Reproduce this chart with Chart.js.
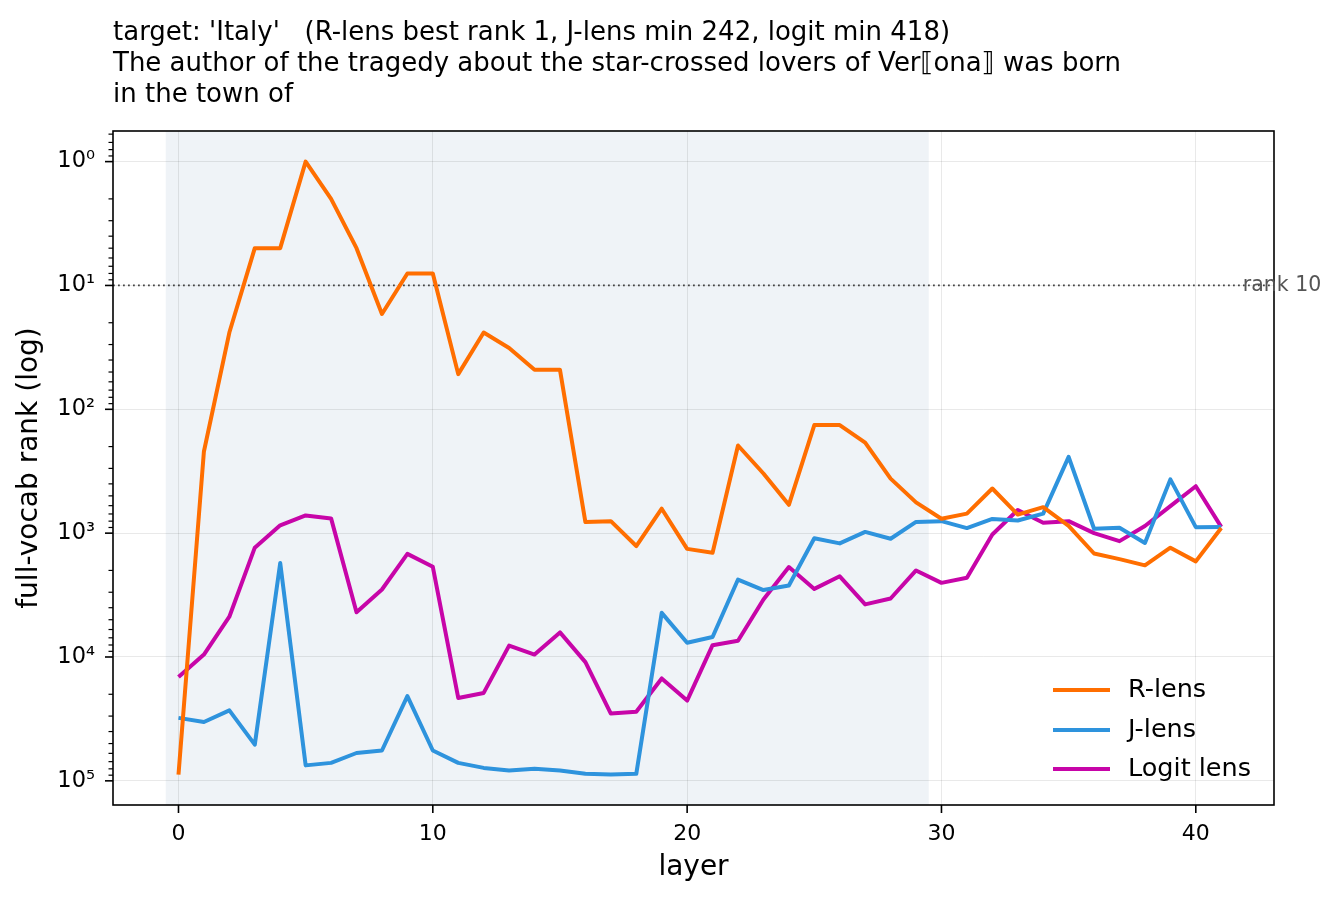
<!DOCTYPE html>
<html>
<head>
<meta charset="utf-8">
<title>full-vocab rank by layer</title>
<script src="https://cdn.jsdelivr.net/npm/chart.js@4.4.1/dist/chart.umd.min.js"></script>
<style>
    html, body { margin: 0; padding: 0; background: #fff; }
    #wrap { width: 1339px; height: 901px; }
</style>
</head>
<body>
<div id="wrap"><canvas id="rankChart" width="1339" height="901"></canvas></div>
<script>
Chart.defaults.font.family = "'DejaVu Sans', sans-serif";
Chart.defaults.color = '#000';

// values (rank, lower is better)
const layers = [0, 1, 2, 3, 4, 5, 6, 7, 8, 9, 10, 11, 12, 13, 14, 15, 16, 17, 18, 19, 20,
    21, 22, 23, 24, 25, 26, 27, 28, 29, 30, 31, 32, 33, 34, 35, 36, 37, 38, 39, 40, 41];
const rLensRank = [89000, 219, 24, 5, 5, 1, 2, 5, 17, 8, 8, 52, 24, 32, 48, 48, 814, 800, 1270, 635, 1340,
    1440, 196, 330, 590, 134, 134, 186, 363, 564, 765, 696, 436, 708, 617, 875, 1460, 1620, 1820, 1310, 1690, 910];
const jLensRank = [31000, 33500, 27000, 51000, 1740, 75000, 71600, 59600, 56900, 20700, 56900,
    71600, 78600, 82600, 80000, 82600, 87800, 88700, 87800, 4400, 7680, 6900, 2370, 2880, 2650,
    1100, 1210, 977, 1110, 811, 800, 910, 767, 790, 695, 242, 922, 906, 1200, 368, 895, 890];
const logitLensRank = [14500, 9550, 4730, 1310, 865, 720, 760, 4350, 2850, 1470, 1870, 21400,
    19500, 8100, 9550, 6330, 11000, 28600, 27700, 14900, 22500, 8030, 7400, 3430, 1880, 2820,
    2230, 3760, 3370, 2000, 2520, 2290, 1025, 650, 824, 800, 1000, 1160, 875, 605, 418, 890];

const seriesNames = ['R-lens', 'J-lens', 'Logit lens'];
const seriesColors = ['#ff6e00', '#2e93dd', '#c705a8'];
const xTickValues = [0, 10, 20, 30, 40];
const titleLines = [
    "target: 'Italy'   (R-lens best rank 1, J-lens min 242, logit min 418)",
    "The author of the tragedy about the star-crossed lovers of Ver\u27E6ona\u27E7 was born",
    "in the town of"
];
const refRank = 10;
const refLabel = 'rank 10';
const shadedLayers = [-0.5, 29.5];

const supDigits = {'0': '\u2070', '1': '\u00B9', '2': '\u00B2', '3': '\u00B3', '4': '\u2074',
    '5': '\u2075', '6': '\u2076', '7': '\u2077', '8': '\u2078', '9': '\u2079', '-': '\u207B'};

function powerLabel(v) {
    let e = String(Math.round(Math.log10(v)));
    return '10' + e.split('').map(c => supDigits[c]).join('');
}

function toPoints(values) {
    return values.map((v, i) => ({x: layers[i], y: v}));
}

function makeDataset(label, values, color) {
    return {
        label: label,
        data: toPoints(values),
        borderColor: color,
        backgroundColor: color,
        borderWidth: 4,
        pointRadius: 0,
        tension: 0,
        borderJoinStyle: 'round',
        fill: false
    }
}

// shading, reference line, frame, tick marks, legend and title
const decorPlugin = {
    id: 'decor',
    beforeDraw(chart) {
        const {ctx, chartArea: a, scales: {x}} = chart;
        let x0 = x.getPixelForValue(shadedLayers[0]);
        let x1 = x.getPixelForValue(shadedLayers[1]);
        ctx.save();
        ctx.fillStyle = 'rgba(74,111,165,0.085)';
        ctx.fillRect(x0, a.top, x1 - x0, a.bottom - a.top);
        ctx.restore();
    },
    beforeDatasetsDraw(chart) {
        const {ctx, chartArea: a, scales: {y}} = chart;
        let py = y.getPixelForValue(refRank);
        ctx.save();
        ctx.strokeStyle = 'rgba(50,50,50,0.9)';
        ctx.lineWidth = 1.8;
        ctx.setLineDash([1.8, 3.2]);
        ctx.beginPath();
        ctx.moveTo(a.left, py);
        ctx.lineTo(a.right, py);
        ctx.stroke();
        ctx.restore();
    },
    afterDraw(chart) {
        const {ctx, chartArea: a, scales: {x, y}} = chart;
        ctx.save();

        // tick marks
        ctx.strokeStyle = '#000';
        for (let t of x.ticks) {
            let px = x.getPixelForValue(t.value);
            ctx.lineWidth = 1.6;
            ctx.beginPath();
            ctx.moveTo(px, a.bottom);
            ctx.lineTo(px, a.bottom + 8);
            ctx.stroke();
        }
        for (let t of y.ticks) {
            let py = y.getPixelForValue(t.value);
            ctx.lineWidth = t.major ? 1.6 : 1.2;
            ctx.beginPath();
            ctx.moveTo(a.left, py);
            ctx.lineTo(a.left - (t.major ? 8 : 4.5), py);
            ctx.stroke();
        }

        // frame
        ctx.lineWidth = 1.6;
        ctx.strokeRect(a.left, a.top, a.right - a.left, a.bottom - a.top);

        // reference line label
        ctx.fillStyle = '#555';
        ctx.font = "20.5px 'DejaVu Sans'";
        ctx.textBaseline = 'middle';
        ctx.textAlign = 'left';
        ctx.fillText(refLabel, x.getPixelForValue(41.85), y.getPixelForValue(refRank));

        // legend
        const rows = [690, 730, 769];
        ctx.font = "25.5px 'DejaVu Sans'";
        ctx.fillStyle = '#000';
        chart.data.datasets.forEach((ds, i) => {
            ctx.strokeStyle = ds.borderColor;
            ctx.lineWidth = 4;
            ctx.beginPath();
            ctx.moveTo(1053, rows[i]);
            ctx.lineTo(1110, rows[i]);
            ctx.stroke();
            ctx.fillText(ds.label, 1128, rows[i]);
        });

        // title
        ctx.font = "26px 'DejaVu Sans'";
        ctx.textBaseline = 'alphabetic';
        titleLines.forEach((line, i) => {
            ctx.fillText(line, a.left, 39.5 + i * 31);
        });
        ctx.restore();
    }
};

function initRankChart() {
    let datasets = [
        makeDataset(seriesNames[0], rLensRank, seriesColors[0]),
        makeDataset(seriesNames[1], jLensRank, seriesColors[1]),
        makeDataset(seriesNames[2], logitLensRank, seriesColors[2])
    ];

    return new Chart(document.getElementById('rankChart').getContext('2d'), {
        type: 'line',
        data: {datasets},
        plugins: [decorPlugin],
        options: {
            responsive: false,
            animation: false,
            devicePixelRatio: 1,
            layout: {padding: {left: 0, top: 131, right: 65, bottom: 0}},
            plugins: {
                legend: {display: false},
                title: {display: false},
                tooltip: {enabled: false}
            },
            scales: {
                x: {
                    type: 'linear',
                    min: -2.575,
                    max: 43.075,
                    afterFit: scale => { scale.height = 96; },
                    afterBuildTicks: scale => {
                        scale.ticks = xTickValues.map(v => ({value: v}));
                    },
                    ticks: {
                        font: {size: 22},
                        padding: 16,
                        maxRotation: 0,
                        callback: v => String(v)
                    },
                    grid: {
                        color: 'rgba(0,0,0,0.085)',
                        lineWidth: 1,
                        drawTicks: false
                    },
                    border: {display: false},
                    title: {
                        display: true,
                        text: 'layer',
                        font: {size: 28},
                        padding: {top: 0, bottom: 16}
                    }
                },
                y: {
                    type: 'logarithmic',
                    reverse: true,
                    min: 0.566,
                    max: 156700,
                    afterFit: scale => { scale.width = 113; },
                    afterBuildTicks: scale => {
                        let ticks = [];
                        for (let e = -1; e <= 5; e++) {
                            for (let k = 1; k <= 9; k++) {
                                let v = k * Math.pow(10, e);
                                if (v >= scale.min && v <= scale.max) {
                                    ticks.push({value: v, major: k === 1});
                                }
                            }
                        }
                        scale.ticks = ticks;
                    },
                    ticks: {
                        font: {size: 22.5},
                        padding: 18,
                        autoSkip: false,
                        callback: (v, i, ticks) => ticks[i].major ? powerLabel(v) : ''
                    },
                    grid: {
                        color: c => (c.tick && c.tick.major) ? 'rgba(0,0,0,0.085)' : 'rgba(0,0,0,0)',
                        lineWidth: 1,
                        drawTicks: false
                    },
                    border: {display: false},
                    title: {
                        display: true,
                        text: 'full-vocab rank (log)',
                        font: {size: 28},
                        padding: {top: 13, bottom: 0}
                    }
                }
            }
        }
    });
}

let rankChart = initRankChart();
</script>
</body>
</html>
